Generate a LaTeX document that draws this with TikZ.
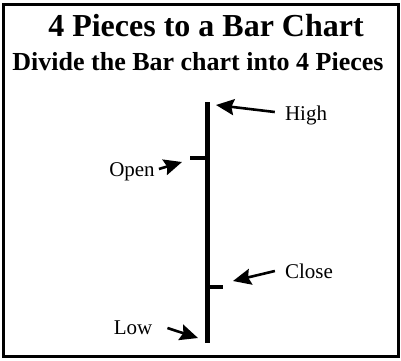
\documentclass[tikz,border=0pt]{standalone}
\usepackage{fontspec}
\setmainfont{Liberation Serif}
\usepackage{tikz}
\usetikzlibrary{positioning,arrows.meta}
\tikzset{
    titletext/.style={
        anchor=base,
        inner sep=0pt,
        font=\fontsize{32}{32}\selectfont\bfseries
    },
    subtitletext/.style={
        anchor=base,
        inner sep=0pt,
        font=\fontsize{26}{26}\selectfont\bfseries
    },
    piecelabel/.style={
        anchor=base,
        inner sep=0pt,
        font=\fontsize{21}{21}\selectfont
    },
    pointer/.style={
        -{Stealth[length=18pt,width=16pt,inset=2.5pt]},
        line width=2.6pt
    }
}

\begin{document}
\begin{tikzpicture}[x=1pt,y=-1pt]

\useasboundingbox (0,0) rectangle (401,360);

% Outer frame
\draw[line width=3pt] (3.5,4.5) rectangle (398,356);

% Titles
\node[titletext] (title) at (206,36) {4 Pieces to a Bar Chart};
\node[subtitletext] (subtitle) at (198,70) {Divide the Bar chart into 4 Pieces};

% Main vertical bar
\draw[line width=5pt] (207,102) coordinate (barhigh) -- (207,343) coordinate (barlow);

% Open and close ticks
\draw[line width=4pt] (190,158) -- (207,158);
\draw[line width=4pt] (207,287) -- (223,287);

% Labels
\node[piecelabel] (high) at (306,120) {High};
\node[piecelabel] (open) at (132,176) {Open};
\node[piecelabel] (close) at (309,278) {Close};
\node[piecelabel] (low) at (133,334) {Low};

% Arrow tips
\coordinate (hightip) at (216,105);
\coordinate (opentip) at (182,162);
\coordinate (closetip) at (233,281);
\coordinate (lowtip) at (198,338);

% Arrows
\draw[pointer] ([xshift=-10pt,yshift=8pt]high.base west) -- (hightip);
\draw[pointer] ([xshift=4pt,yshift=7pt]open.base east) -- (opentip);
\draw[pointer] ([xshift=-10pt,yshift=7pt]close.base west) -- (closetip);
\draw[pointer] ([xshift=15pt,yshift=6pt]low.base east) -- (lowtip);

\end{tikzpicture}
\end{document}
